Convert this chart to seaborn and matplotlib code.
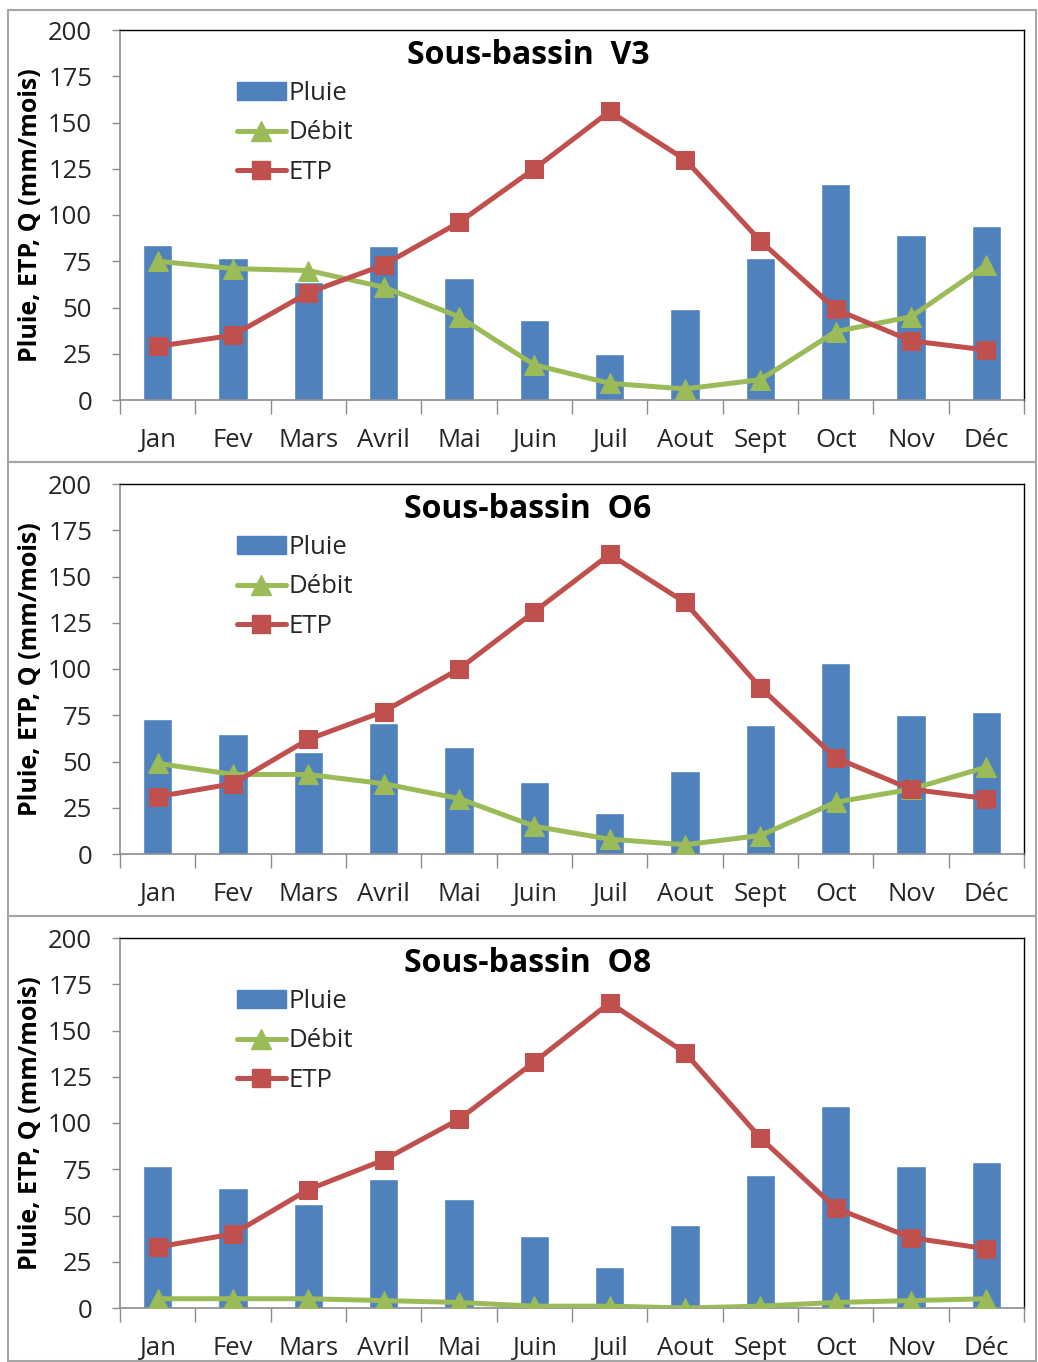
import numpy as np
import pandas as pd
import matplotlib
matplotlib.use('Agg')
import matplotlib.pyplot as plt
import seaborn as sns
from matplotlib.patches import Patch, Rectangle
from matplotlib.lines import Line2D

# Monthly data (mm/mois)
months = ['Jan', 'Fev', 'Mars', 'Avril', 'Mai', 'Juin', 'Juil', 'Aout', 'Sept', 'Oct', 'Nov', 'Déc']

pluie_v3 = [84, 77, 64, 83, 66, 43, 25, 49, 77, 117, 89, 94]
debit_v3 = [75, 71, 70, 61, 45, 19, 9, 6, 11, 37, 45, 73]
etp_v3 = [29, 35, 58, 73, 96, 125, 156, 130, 86, 49, 32, 27]

pluie_o6 = [73, 65, 55, 71, 58, 39, 22, 45, 70, 103, 75, 77]
debit_o6 = [49, 43, 43, 38, 30, 15, 8, 5, 10, 28, 35, 47]
etp_o6 = [31, 38, 62, 77, 100, 131, 162, 136, 90, 52, 35, 30]

pluie_o8 = [77, 65, 56, 70, 59, 39, 22, 45, 72, 109, 77, 79]
debit_o8 = [5, 5, 5, 4, 3, 1, 1, 0, 1, 3, 4, 5]
etp_o8 = [33, 40, 64, 80, 102, 133, 165, 138, 92, 54, 38, 32]

basins = ['V3', 'O6', 'O8']
series = {
    'V3': (pluie_v3, debit_v3, etp_v3),
    'O6': (pluie_o6, debit_o6, etp_o6),
    'O8': (pluie_o8, debit_o8, etp_o8),
}

BLUE = '#4F81BD'
GREEN = '#9BBB59'
RED = '#C0504D'

sns.set_theme(style='white')
plt.rcParams['font.family'] = ['Open Sans', 'DejaVu Sans']

W, H = 1038, 1362
fig = plt.figure(figsize=(W / 100, H / 100), dpi=100)

# panel frames (pixel coords: top, bottom)
frames = [(10, 462), (462, 916), (916, 1361)]
axes_tops = [30, 484, 938]
ax_h = 370

for i, b in enumerate(basins):
    pluie, debit, etp = series[b]
    df = pd.DataFrame({'mois': months, 'Pluie': pluie, 'Débit': debit, 'ETP': etp})

    ft, fb = frames[i]
    fig.add_artist(Rectangle((8 / W, 1 - fb / H), (1036 - 8) / W, (fb - ft) / H,
                             transform=fig.transFigure, fill=False,
                             edgecolor='#A6A6A6', linewidth=1.5))

    top = axes_tops[i]
    ax = fig.add_axes([120 / W, 1 - (top + ax_h) / H, 904 / W, ax_h / H])

    sns.barplot(data=df, x='mois', y='Pluie', color=BLUE, saturation=1,
                width=0.39, ax=ax, zorder=2)
    x = np.arange(len(months))
    sns.lineplot(x=x, y=df['Débit'], color=GREEN, linewidth=3.6, marker='^',
                 markersize=15, markeredgecolor=GREEN, ax=ax, zorder=3)
    sns.lineplot(x=x, y=df['ETP'], color=RED, linewidth=3.6, marker='s',
                 markersize=13, markeredgecolor=RED, ax=ax, zorder=4)

    ax.set_xlim(-0.5, 11.5)
    ax.set_ylim(0, 200)
    ax.set_yticks(range(0, 201, 25))
    ax.tick_params(axis='y', which='major', left=True, length=6, width=1,
                   color='#8C8C8C', labelsize=18.5, pad=14, labelcolor='#262626')

    # category boundaries as ticks, labels at centres
    ax.set_xticks(np.arange(-0.5, 12, 1))
    ax.set_xticklabels([])
    ax.set_xticks(x, minor=True)
    ax.set_xticklabels(months, minor=True)
    ax.tick_params(axis='x', which='major', bottom=True, length=10, width=1,
                   color='#8C8C8C', direction='out')
    ax.tick_params(axis='x', which='minor', bottom=False, length=0,
                   labelsize=18.5, pad=20, labelcolor='#262626')

    ax.set_xlabel('')
    ax.set_ylabel('Pluie, ETP, Q (mm/mois)', fontsize=18, fontweight='bold',
                  color='black')
    ax.yaxis.set_label_coords((43 - 120) / 904, 0.5)

    for s in ['top', 'right']:
        ax.spines[s].set_color('black')
        ax.spines[s].set_linewidth(1)
    for s in ['left', 'bottom']:
        ax.spines[s].set_color('#8C8C8C')
        ax.spines[s].set_linewidth(1.2)

    ax.text((528 - 120) / 904, (400 - 55) / 370, 'Sous-bassin  ' + b,
            transform=ax.transAxes, ha='center', va='center',
            fontsize=23, fontweight='bold', color='black')

    handles = [
        Patch(facecolor=BLUE, edgecolor=BLUE),
        Line2D([0], [0], color=GREEN, linewidth=3.6, marker='^', markersize=15),
        Line2D([0], [0], color=RED, linewidth=3.6, marker='s', markersize=13),
    ]
    ax.legend(handles, ['Pluie', 'Débit', 'ETP'], loc='upper left',
              bbox_to_anchor=((237 - 120) / 904, (400 - 81) / 370),
              frameon=False, fontsize=18.5, handlelength=1.9, handleheight=0.65,
              handletextpad=0.12, labelspacing=0.56, borderpad=0, borderaxespad=0)

fig.savefig('out.png', dpi=100)
